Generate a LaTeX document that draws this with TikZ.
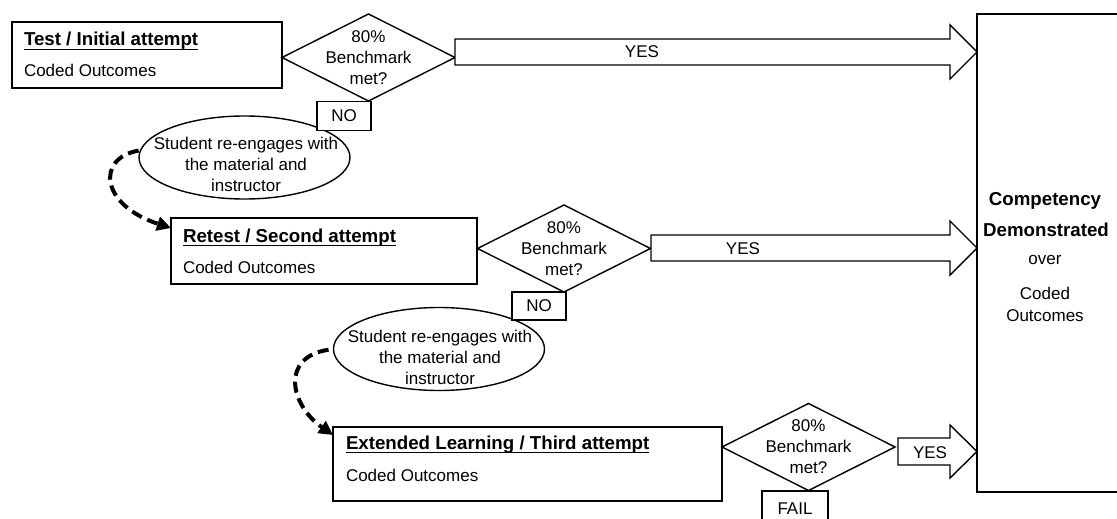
\documentclass[tikz,border=0pt]{standalone}
\usepackage{fontspec}
\setmainfont{Liberation Sans}
\usetikzlibrary{shapes.geometric,arrows.meta,calc}
\begin{document}
\begin{tikzpicture}[x=1pt,y=-1pt,
  every node/.style={inner sep=0pt,outer sep=0pt},
  shapeline/.style={draw=black,line width=1.4pt},
  box/.style={shapeline,rectangle,fill=white},
  dia/.style={shapeline,diamond,fill=white,minimum width=173pt,minimum height=87pt},
  oval/.style={shapeline,ellipse,minimum width=211pt,minimum height=83pt},
  bodytext/.style={font=\fontsize{17}{21}\selectfont},
  multi/.style={font=\fontsize{17}{21}\selectfont,align=center},
  titletext/.style={font=\fontsize{18.7}{22}\selectfont\bfseries,anchor=base west},
  boldtext/.style={font=\fontsize{18.7}{22}\selectfont\bfseries,anchor=base},
  ul/.style={line width=1.6pt},
  barrow/.style={shapeline,fill=white,line join=miter},
  backarrow/.style={draw=black,line width=4pt,dash pattern=on 11pt off 6pt,
    -{Triangle[length=14pt,width=14pt]}},
]
\useasboundingbox (0,0) rectangle (1117,519);

% ---------- ellipses ----------
\node[oval] (e1) at (244.5,157.5) {};
\node[multi] (e1t) at (246,164.5) {Student re-engages with\\the material and\\instructor};
\node[oval] (e2) at (439,349) {};
\node[multi] (e2t) at (440,357.5) {Student re-engages with\\the material and\\instructor};

% ---------- boxes ----------
\node[box,anchor=north west,minimum width=270pt,minimum height=66pt] (b1) at (12,22) {};
\node[titletext] (t1) at (24,46) {Test / Initial attempt};
\draw[ul] ($(t1.base west)+(0,3.5)$) -- ($(t1.base east)+(0,3.5)$);
\node[bodytext,anchor=base west] (c1) at (24,77) {Coded Outcomes};

\node[box,anchor=north west,minimum width=306pt,minimum height=66pt] (b2) at (171,218) {};
\node[titletext] (t2) at (183,242) {Retest / Second attempt};
\draw[ul] ($(t2.base west)+(0,3.5)$) -- ($(t2.base east)+(0,3.5)$);
\node[bodytext,anchor=base west] (c2) at (183,273) {Coded Outcomes};

\node[box,anchor=north west,minimum width=389pt,minimum height=74pt] (b3) at (333,427) {};
\node[titletext] (t3) at (346,449) {Extended Learning / Third attempt};
\draw[ul] ($(t3.base west)+(0,3.5)$) -- ($(t3.base east)+(0,3.5)$);
\node[bodytext,anchor=base west] (c3) at (346,481) {Coded Outcomes};

% ---------- diamonds ----------
\node[dia] (d1) at (368.5,57.5) {};
\node[multi] (d1t) at (d1) {80\%\\Benchmark\\met?};
\node[dia] (d2) at (564,248.5) {};
\node[multi] (d2t) at (d2) {80\%\\Benchmark\\met?};
\node[dia] (d3) at (808.5,447) {};
\node[multi] (d3t) at (d3) {80\%\\Benchmark\\met?};

% ---------- NO / FAIL ----------
\node[box,bodytext,minimum width=54pt,minimum height=29pt] (n1) at (344,116) {NO};
\node[box,bodytext,minimum width=54pt,minimum height=28pt] (n2) at (539,306) {NO};
\node[box,bodytext,minimum width=66pt,minimum height=35pt] (fail) at (795,508.5) {FAIL};

% ---------- block arrows (YES) ----------
\draw[barrow] (455,39) -- (950,39) -- (950,25) -- (977,52) -- (950,79) -- (950,65) -- (455,65) -- cycle;
\node[bodytext] (y1) at (642,52) {YES};
\draw[barrow] (651,235) -- (950,235) -- (950,221) -- (977,248) -- (950,275) -- (950,261) -- (651,261) -- cycle;
\node[bodytext] (y2) at (743,249) {YES};
\draw[barrow] (898,438) -- (950,438) -- (950,425) -- (977,451.5) -- (950,478) -- (950,465) -- (898,465) -- cycle;
\node[bodytext] (y3) at (930,453) {YES};

% ---------- competency box ----------
\node[shapeline,rectangle,anchor=north west,minimum width=150pt,minimum height=478pt] (cd) at (977,14) {};
\node[boldtext] (cd1) at (1045,205) {Competency};
\node[boldtext] (cd2) at (1046,236) {Demonstrated};
\node[bodytext,anchor=base] (cd3) at (1045,264.5) {over};
\node[bodytext,anchor=base] (cd4) at (1045,299) {Coded};
\node[bodytext,anchor=base] (cd5) at (1045,321) {Outcomes};

% ---------- dashed return arrows ----------
\coordinate (a1end) at ($(b2.north west)+(0,10)$);
\coordinate (a2end) at ($(b3.north west)+(0,8)$);
\draw[backarrow,shorten <=2pt] (e1.176) .. controls (96,158) and (100,205) .. (a1end);
\draw[backarrow,shorten <=5pt] (e2.west) .. controls (280,357) and (290,405) .. (a2end);
\end{tikzpicture}
\end{document}
